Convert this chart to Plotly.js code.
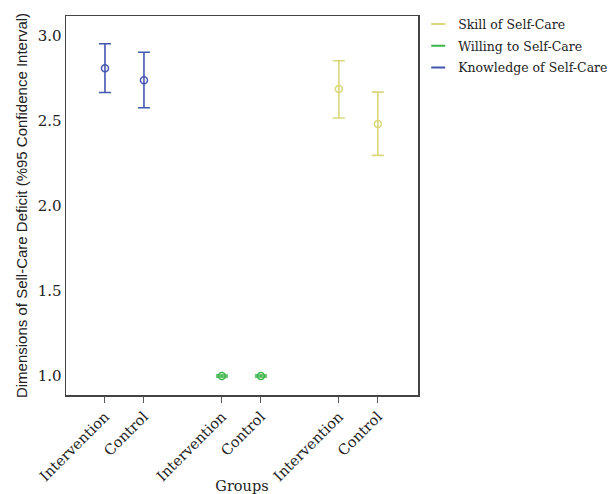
<!DOCTYPE html>
<html><head><meta charset="utf-8">
<script src="https://cdn.plot.ly/plotly-3.0.1.min.js"></script>
<style>html,body{margin:0;padding:0;background:#fff}#chart{width:615px;height:494px}</style>
</head><body><div id="chart"></div>
<script>
const groups = ["Intervention", "Control"];
const seriesNames = ["Knowledge of Self-Care", "Willing to Self-Care", "Skill of Self-Care"];
const seriesColors = ["#4557b0", "#3db54a", "#dcd77a"];
const knowledgeMean = [2.81, 2.74];
const knowledgeUpper = [2.955, 2.905];
const knowledgeLower = [2.668, 2.578];
const willingMean = [1.0, 1.0];
const willingUpper = [1.006, 1.006];
const willingLower = [0.994, 0.994];
const skillMean = [2.688, 2.483];
const skillUpper = [2.855, 2.67];
const skillLower = [2.518, 2.298];

const means = [knowledgeMean, willingMean, skillMean];
const uppers = [knowledgeUpper, willingUpper, skillUpper];
const lowers = [knowledgeLower, willingLower, skillLower];

const SERIF = 'DejaVu Serif, Liberation Serif, serif';
const traces = [];
const legendTraces = [];
const tickvals = [], ticktext = [];
means.forEach((m, s) => {
  const xs = groups.map((g, i) => s * 3 + i);
  xs.forEach((x, i) => { tickvals.push(x); ticktext.push(groups[i]); });
  traces.push({
    type: 'scatter', mode: 'markers', name: seriesNames[s], x: xs, y: m, showlegend: false,
    marker: {symbol: 'circle-open', size: 7, color: seriesColors[s], line: {width: 1.5, color: seriesColors[s]}},
    error_y: {type: 'data', symmetric: false,
      array: m.map((v, i) => uppers[s][i] - v),
      arrayminus: m.map((v, i) => v - lowers[s][i]),
      color: seriesColors[s], thickness: 1.6, width: 6},
    hoverinfo: 'y'
  });
  legendTraces.unshift({
    type: 'scatter', mode: 'markers', name: seriesNames[s], x: [null], y: [null], showlegend: true,
    legendgroup: 'g' + s,
    marker: {symbol: 'line-ew-open', size: 10, color: seriesColors[s], line: {width: 2, color: seriesColors[s]}}
  });
});

const layout = {
  width: 615, height: 494,
  margin: {l: 66, r: 197, t: 16, b: 99, autoexpand: false},
  paper_bgcolor: '#fff', plot_bgcolor: '#fff',
  font: {family: SERIF, color: '#222'},
  showlegend: true,
  legend: {xref: 'container', yref: 'container', x: 0.68, y: 0.981, xanchor: 'left', yanchor: 'top', traceorder: 'grouped',
    font: {size: 12.5, family: SERIF, color: '#222'},
    bgcolor: 'rgba(0,0,0,0)', itemwidth: 30, tracegroupgap: 2.5},
  xaxis: {
    range: [-1, 8.03], tickmode: 'array', tickvals: tickvals, ticktext: ticktext,
    tickangle: -45, ticks: 'outside', ticklen: 6, tickcolor: '#555',
    showgrid: false, zeroline: false, showline: true, linecolor: '#444', linewidth: 1.5, mirror: true,
    tickfont: {size: 14.5, family: SERIF, color: '#222'},
    title: {text: 'Groups', font: {size: 14.5, family: SERIF, color: '#222'}, standoff: 6}
  },
  yaxis: {
    range: [0.888, 3.118], tickvals: [1.0, 1.5, 2.0, 2.5, 3.0], ticktext: ['1.0','1.5','2.0','2.5','3.0'],
    ticks: '', showgrid: false, zeroline: false, showline: true, linecolor: '#444', linewidth: 1.5, mirror: true,
    tickfont: {size: 15, family: SERIF, color: '#222'},
    title: {text: 'Dimensions of Sell-Care Deficit (%95 Confidence Interval)', font: {size: 15, family: 'Liberation Sans, DejaVu Sans, sans-serif', color: '#222'}, standoff: 6}
  }
};
Plotly.newPlot('chart', traces.concat(legendTraces), layout, {displayModeBar: false, staticPlot: true});
</script></body></html>
